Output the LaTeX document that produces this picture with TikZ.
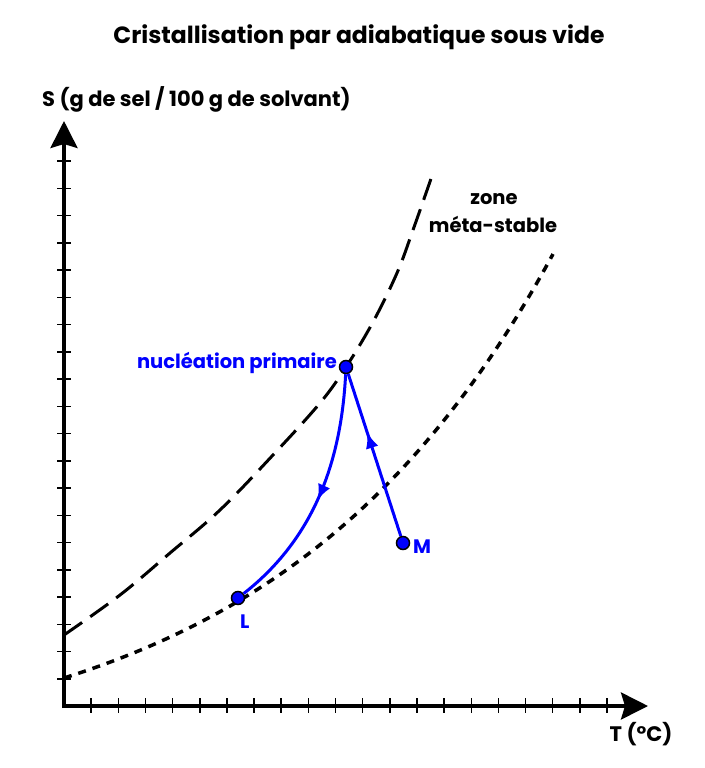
\documentclass[tikz,border=0pt]{standalone}
\usepackage{fontspec}
\setmainfont{Poppins}
\usetikzlibrary{arrows.meta,decorations.markings}
\begin{document}
\begin{tikzpicture}[x=1pt,y=-1pt,
  axis/.style={line width=3.5pt,-{Stealth[length=27pt,width=27pt,inset=4pt]}},
  tickmark/.style={line width=1.5pt},
  limitcurve/.style={line width=3pt,dash pattern=on 22pt off 10pt},
  solcurve/.style={line width=3.5pt,dash pattern=on 8pt off 7pt},
  bluepath/.style={blue,line width=3pt},
  dot/.style={circle,fill=blue,draw=black,line width=1.5pt,minimum size=13pt,inner sep=0pt},
  midarrow/.style={postaction={decorate},decoration={markings,mark=at position #1 with {\arrow[blue]{Latex[length=16pt,width=13pt]}}}},
  txt/.style={font=\bfseries\fontsize{#1}{#1}\selectfont,inner sep=0pt},
  bluetxt/.style={txt=#1,text=blue}]
\useasboundingbox[fill=white] (0,0) rectangle (704,768);
% title
\node[txt=23.5,anchor=base] (title) at (359,44) {Cristallisation par adiabatique sous vide};
% axes
\coordinate (ytip) at (64,121);
\coordinate (xtip) at (648,706);
\draw[axis] (64,708) -- (ytip);
\draw[axis] (62,706) -- (xtip);
\foreach \k in {1,...,20}{
  \draw[tickmark] (57,706-27.25*\k) -- (71,706-27.25*\k);
  \draw[tickmark] (64+27.15*\k,698) -- (64+27.15*\k,713);
}
\node[txt=21,anchor=base west] (ylab) at (42,106) {S (g de sel / 100 g de solvant)};
\node[txt=21,anchor=base] (xlab) at (641,741) {T (°C)};
% curves
\draw[limitcurve] plot[smooth,tension=0.6] coordinates {(64,635) (120,595) (170,553) (220,510) (273,455) (320,403) (346,367) (373,322) (397,273) (413,230) (433,173)};
\draw[solcurve] plot[domain=64:553,samples=60,smooth] (\x,{706-(-60+88*exp(0.0036*(\x-64)))});
\node[txt=19.5,anchor=base] (zone) at (494,204) {zone};
\node[txt=19.5,anchor=base] (meta) at (493,232) {méta-stable};
% points
\node[dot] (N) at (346,367) {};
\node[dot] (M) at (403,543) {};
\node[dot] (L) at (238,598) {};
\draw[bluepath,midarrow=0.64] (M) -- (N);
\draw[bluepath,midarrow=0.52] (N) .. controls (341,465) and (312,540) .. (L);
\node[bluetxt=19.5,anchor=base east] (Nlab) at (337,368) {nucléation primaire};
\node[bluetxt=19.5,anchor=base west] (Mlab) at (413,553) {M};
\node[bluetxt=19.5,anchor=base west] (Llab) at (240,628) {L};
\end{tikzpicture}
\end{document}
